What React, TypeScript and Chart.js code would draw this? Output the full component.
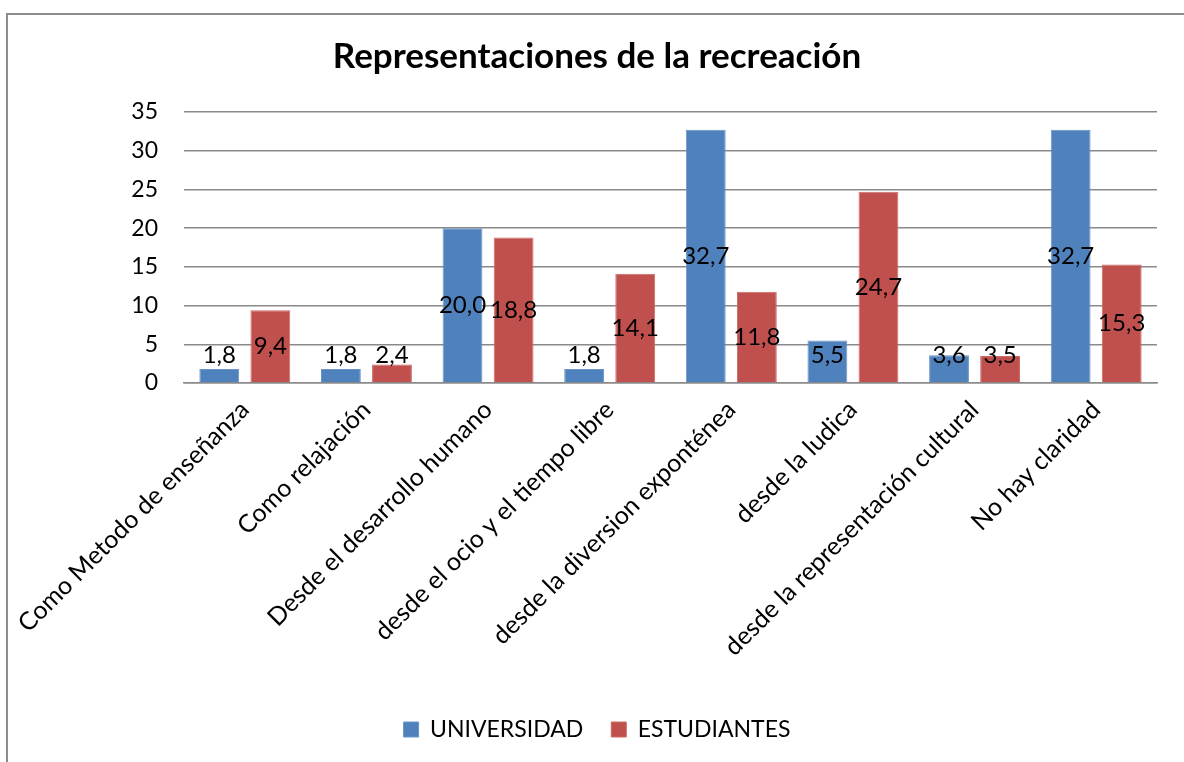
import React, { useEffect, useRef } from "react";
import { Chart, registerables } from "chart.js";

Chart.register(...registerables);

const categories = [
  "Como Metodo de enseñanza",
  "Como relajación",
  "Desde el desarrollo humano",
  "desde el ocio y el tiempo libre",
  "desde la diversion exponténea",
  "desde la ludica",
  "desde la representación cultural",
  "No hay claridad",
];
const universidad = [1.8, 1.8, 20.0, 1.8, 32.7, 5.5, 3.6, 32.7];
const estudiantes = [9.4, 2.4, 18.8, 14.1, 11.8, 24.7, 3.5, 15.3];
const seriesNames = ["UNIVERSIDAD", "ESTUDIANTES"];
const titleText = "Representaciones de la recreación";
const yTicks = [0, 5, 10, 15, 20, 25, 30, 35];

const FONT = "Lato, 'DejaVu Sans', sans-serif";

const frameAndLabels = {
  id: "frameAndLabels",
  beforeDraw(chart: any) {
    const ctx = chart.ctx;
    ctx.save();
    ctx.fillStyle = "#ffffff";
    ctx.fillRect(0, 0, chart.width, chart.height);
    ctx.strokeStyle = "#8c8c8c";
    ctx.lineWidth = 2;
    ctx.beginPath();
    ctx.moveTo(7, chart.height + 5);
    ctx.lineTo(7, 14);
    ctx.lineTo(chart.width + 5, 14);
    ctx.stroke();
    ctx.restore();
  },
  afterDatasetsDraw(chart: any) {
    const ctx = chart.ctx;
    ctx.save();
    ctx.font = `24px ${FONT}`;
    ctx.fillStyle = "#000000";
    ctx.textAlign = "center";
    ctx.textBaseline = "middle";
    chart.data.datasets.forEach((ds: any, di: number) => {
      const meta = chart.getDatasetMeta(di);
      meta.data.forEach((bar: any, i: number) => {
        const v = ds.data[i] as number;
        const base = bar.base;
        const mid = (bar.y + base) / 2;
        const y = Math.min(mid, base - 27);
        ctx.fillText(v.toFixed(1).replace(".", ","), bar.x, y);
      });
    });
    ctx.restore();
  },
};

export default function App() {
  const ref = useRef<HTMLCanvasElement>(null);
  useEffect(() => {
    if (!ref.current) return;
    const chart = new Chart(ref.current, {
      type: "bar",
      data: {
        labels: categories,
        datasets: [
          {
            label: seriesNames[0],
            data: universidad,
            backgroundColor: "#4F81BD",
            borderColor: "#6a94c8",
            borderWidth: 1,
            categoryPercentage: 0.84,
            barPercentage: 0.78,
          },
          {
            label: seriesNames[1],
            data: estudiantes,
            backgroundColor: "#C0504D",
            borderColor: "#cc6a67",
            borderWidth: 1,
            categoryPercentage: 0.84,
            barPercentage: 0.78,
          },
        ],
      },
      options: {
        responsive: false,
        animation: false,
        devicePixelRatio: 1,
        layout: { padding: { top: 0, left: 37, right: 27, bottom: 11 } },
        plugins: {
          title: {
            display: true,
            text: titleText,
            color: "#000000",
            font: { family: FONT, size: 35, weight: "bold" },
            padding: { top: 36, bottom: 34 },
          },
          legend: {
            position: "bottom",
            labels: {
              color: "#000000",
              font: { family: FONT, size: 23 },
              boxWidth: 15,
              boxHeight: 15,
              padding: 28,
            },
          },
          tooltip: { enabled: false },
        },
        scales: {
          x: {
            grid: { display: false },
            border: { color: "#8a8a8a", width: 1.5 },
            ticks: {
              color: "#000000",
              font: { family: FONT, size: 25 },
              minRotation: 45,
              maxRotation: 45,
              autoSkip: false,
              padding: 4,
            },
            afterFit(scale: any) {
              scale.height = 307;
            },
          },
          y: {
            min: 0,
            max: 35,
            afterBuildTicks(scale: any) {
              scale.ticks = yTicks.map((v) => ({ value: v }));
            },
            grid: { color: "#8a8a8a", lineWidth: 1.5, drawTicks: false },
            border: { display: false },
            ticks: {
              color: "#000000",
              font: { family: FONT, size: 23 },
              padding: 26,
            },
            afterFit(scale: any) {
              scale.width = 147;
            },
          },
        },
      },
      plugins: [frameAndLabels],
    });
    return () => chart.destroy();
  }, []);
  return (
    <div style={{ position: "fixed", left: 0, top: 0, width: 1184, height: 762 }}>
      <canvas ref={ref} width={1184} height={762} style={{ width: 1184, height: 762, display: "block" }} />
    </div>
  );
}
